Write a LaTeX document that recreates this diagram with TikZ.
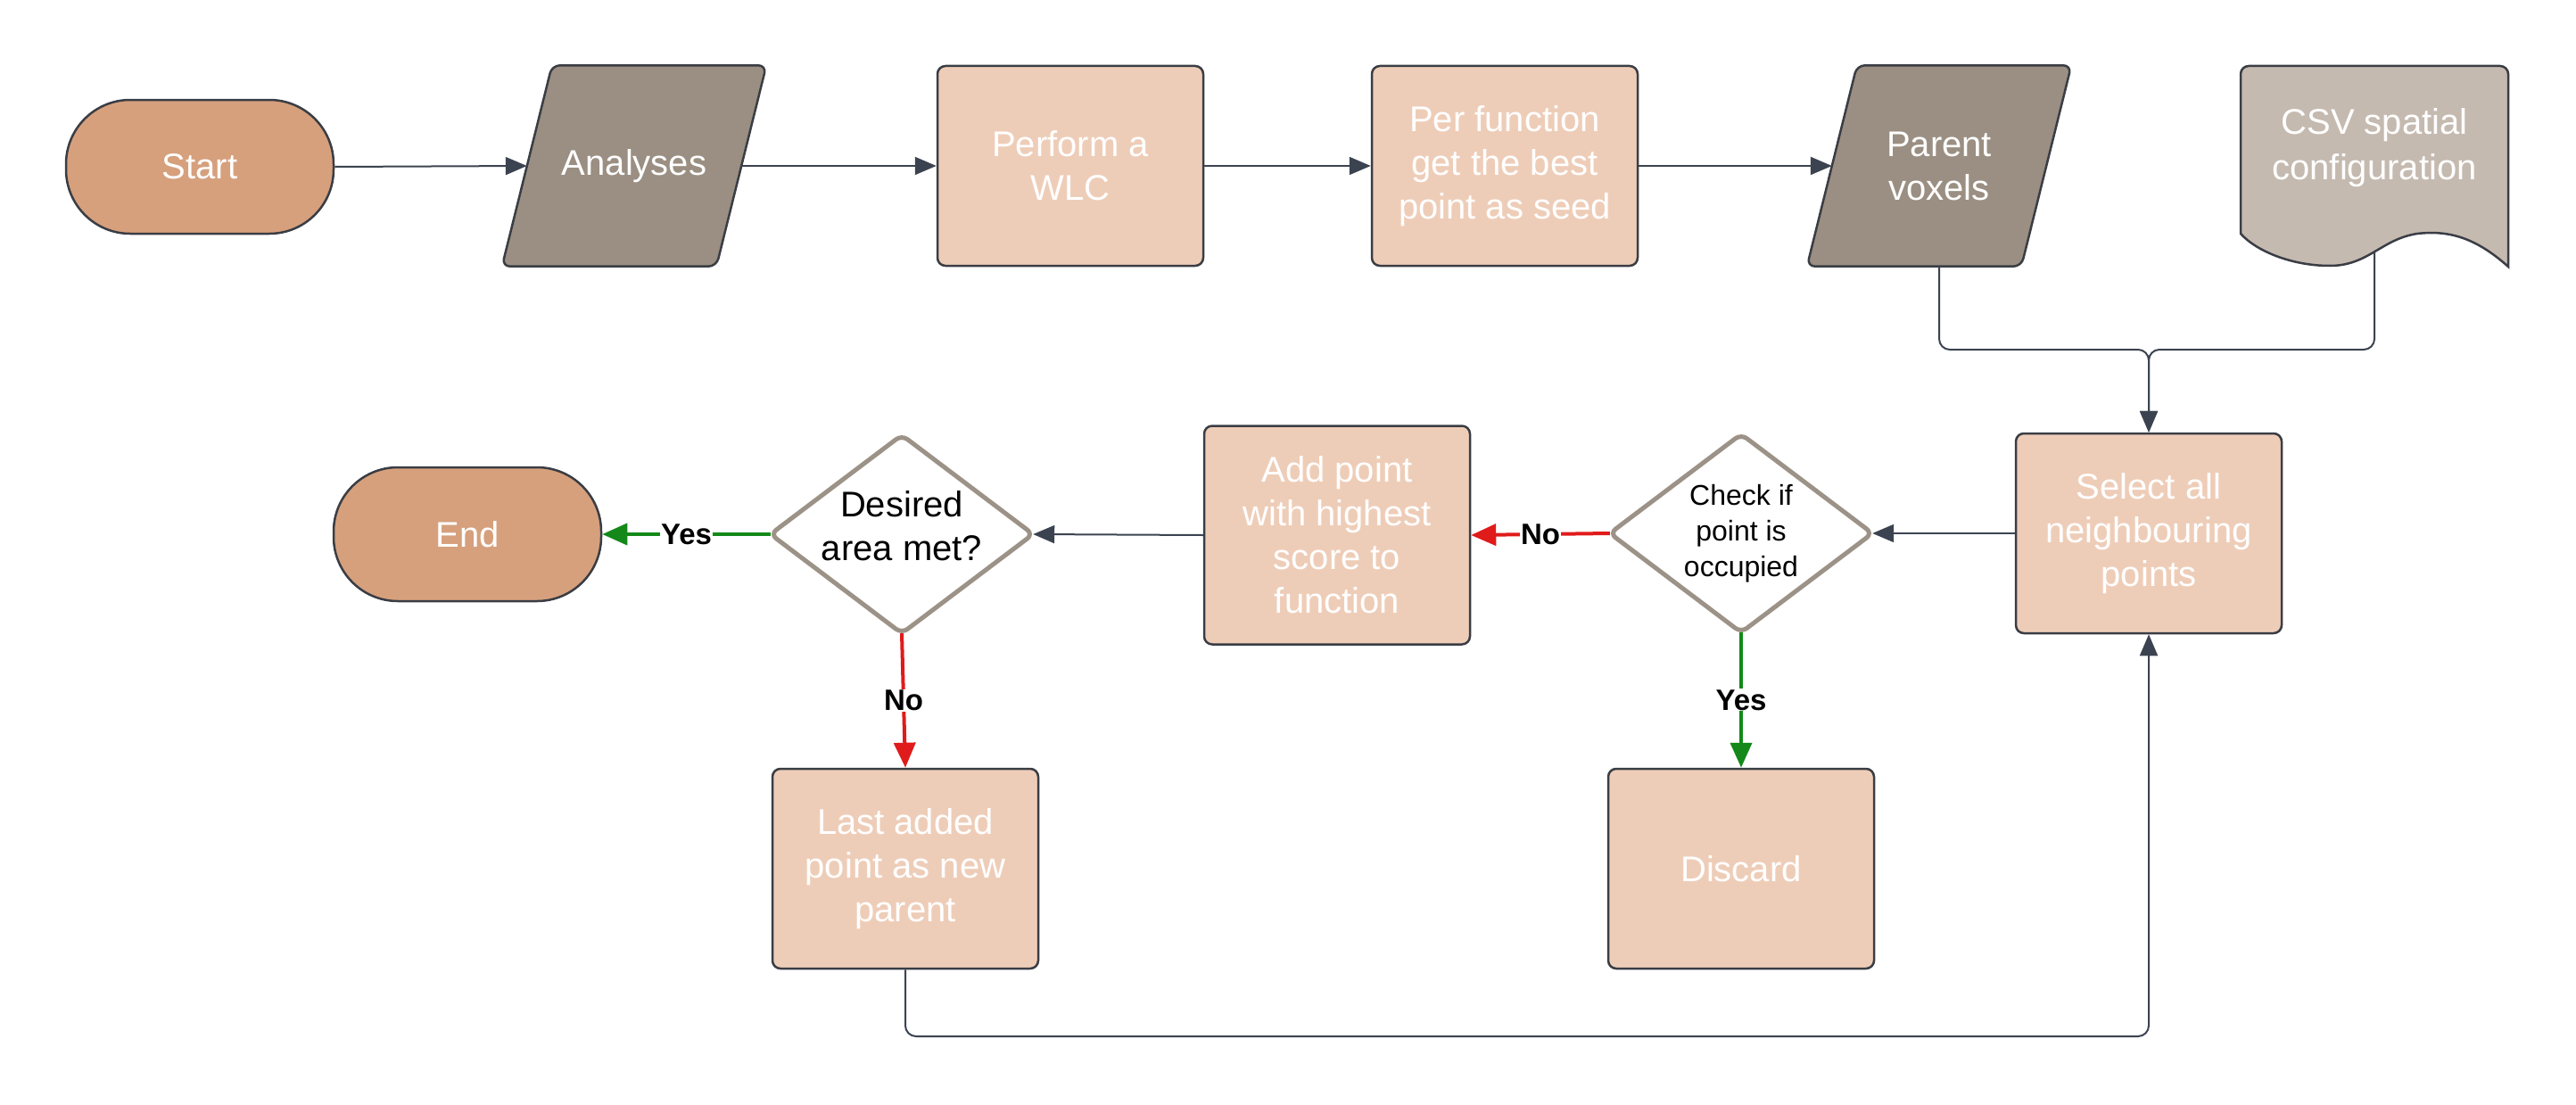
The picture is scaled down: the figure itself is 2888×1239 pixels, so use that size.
\documentclass[tikz,border=0pt]{standalone}
\usepackage{fontspec}
\setmainfont{Liberation Sans}
\usetikzlibrary{arrows.meta,calc,backgrounds}

\definecolor{termfill}{HTML}{D6A07D}
\definecolor{procfill}{HTML}{EECDB8}
\definecolor{iofill}{HTML}{9A8F82}
\definecolor{docfill}{HTML}{C5BAB0}
\definecolor{edgecol}{HTML}{3A3D44}
\definecolor{arrowcol}{HTML}{3C4350}
\definecolor{decborder}{HTML}{9C9287}
\definecolor{yescol}{HTML}{14891A}
\definecolor{nocol}{HTML}{E01B1B}

\begin{document}
\begin{tikzpicture}[x=1pt,y=-1pt,
  every node/.style={font=\fontsize{40}{49}\selectfont, align=center, inner sep=0pt},
  terminal/.style={draw=edgecol, line width=2.5pt, fill=termfill, text=white,
    rounded corners=72pt, minimum width=300pt, minimum height=150pt},
  process/.style={draw=edgecol, line width=2.5pt, fill=procfill, text=white,
    rounded corners=9pt, minimum width=298pt, minimum height=224pt},
  iobox/.style={text=white, minimum width=240pt, minimum height=225pt},
  iofillshape/.style={draw=edgecol, line width=2.5pt, fill=iofill, rounded corners=9pt},
  decision/.style={text=black, minimum width=294pt, minimum height=222pt},
  decshape/.style={draw=decborder, line width=5pt, fill=white, rounded corners=8pt},
  conn/.style={draw=arrowcol, line width=2pt, -{Triangle[length=24pt,width=20pt]}},
  yesline/.style={draw=yescol, line width=4pt, -{Triangle[length=28pt,width=24pt]}},
  noline/.style={draw=nocol, line width=4pt, -{Triangle[length=28pt,width=24pt]}},
  lab/.style={fill=white, inner sep=1pt, text=black, font=\bfseries\fontsize{33}{38}\selectfont}
]
\useasboundingbox (0,0) rectangle (2888,1239);

% top row
\node[terminal] (start) at (224,187) {Start};
\node[iobox] (an) at (711,186) {Analyses};
\node[process] (wlc) at (1200,186) {Perform a\\WLC};
\node[process] (seed) at (1687,186) {Per function\\get the best\\point as seed};
\node[iobox] (par) at (2174,186) {Parent\\voxels};
\node[text=white, font=\fontsize{40}{51}\selectfont] (csv) at (2662,166) {CSV spatial\\configuration};
\coordinate (csvout) at (2662,281);

% middle row
\node[process] (sel) at (2409,598) {Select all\\neighbouring\\points};
\node[decision, font=\fontsize{32}{40}\selectfont] (chk) at (1952,598) {Check if\\point is\\occupied};
\node[process, minimum height=245pt] (add) at (1499,600) {Add point\\with highest\\score to\\function};
\node[decision] (dam) at (1011,599) {};
\node[text=black] (damtxt) at (1011,590) {Desired\\area met?};
\node[terminal] (end) at (524,599) {End};

% bottom row
\node[process] (last) at (1015,974) {Last added\\point as new\\parent};
\node[process] (disc) at (1952,974) {Discard};

% shapes drawn behind the labels
\begin{scope}[on background layer]
  \foreach \n in {an,par}{
    \draw[iofillshape] ($(\n.north west)+(28,0)$) -- ($(\n.north east)+(28,0)$)
      -- ($(\n.south east)+(-28,0)$) -- ($(\n.south west)+(-28,0)$) -- cycle;
  }
  \foreach \n in {chk,dam}{
    \draw[decshape] (\n.west) -- (\n.north) -- (\n.east) -- (\n.south) -- cycle;
  }
  \draw[draw=edgecol, line width=2.5pt, fill=docfill]
    (2512,262) [rounded corners=9pt] -- (2512,74) -- (2812,74) [sharp corners] -- (2812,299)
    .. controls (2775,266) and (2745,258) .. (2710,262)
    .. controls (2670,268) and (2655,298) .. (2612,298)
    .. controls (2570,298) and (2530,282) .. (2512,262) -- cycle;
\end{scope}

% connectors
\draw[conn] (start.east) -- (an.west);
\draw[conn] (an.east) -- (wlc.west);
\draw[conn] (wlc.east) -- (seed.west);
\draw[conn] (seed.east) -- (par.west);

\coordinate (merge) at (2409,392);
\draw[conn, rounded corners=12pt] (par.south) |- (merge) -- (sel.north);
\draw[conn, rounded corners=12pt] (csvout) |- (merge) -- (sel.north);

\draw[conn] (sel.west) -- (chk.east);
\draw[noline] (chk.west) -- node[lab] {No} (add.east);
\draw[yesline] (chk.south) -- node[lab] {Yes} (disc.north);
\draw[conn] (add.west) -- (dam.east);
\draw[yesline] (dam.west) -- node[lab] {Yes} (end.east);
\draw[noline] (dam.south) -- node[lab] {No} (last.north);

\coordinate (loopc) at (2409,1162);
\draw[conn, rounded corners=12pt] (last.south) |- (loopc) -- (sel.south);
\end{tikzpicture}
\end{document}
